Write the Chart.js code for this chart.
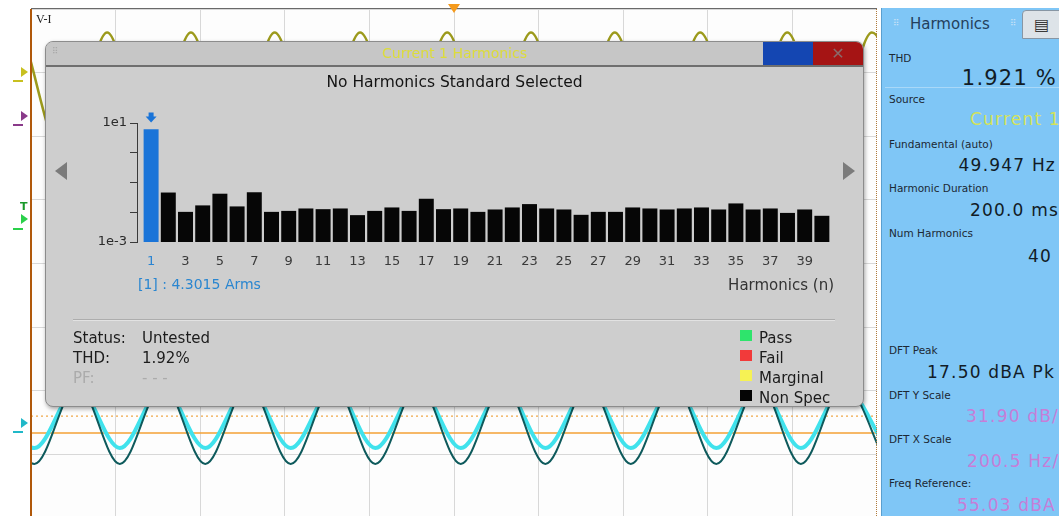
<!DOCTYPE html>
<html lang="en">
<head>
<meta charset="UTF-8">
<title>Current 1 Harmonics</title>
<script src="https://cdn.jsdelivr.net/npm/chart.js"></script>
<style>
  body {
    margin: 0;
    width: 1059px;
    height: 516px;
    overflow: hidden;
    position: relative;
    background: #ffffff;
    font-family: "DejaVu Sans", sans-serif;
  }
  .abs { position: absolute; white-space: nowrap; }
  #scope-chart { position: absolute; left: 31px; top: 9px; background: #fdfdfd; }
  #scope-left { left: 30px; top: 9px; width: 2px; height: 507px; background: #b0580a; }
  #scope-right { left: 876px; top: 9px; height: 507px; border-left: 1px dotted #b07a3a; }
  #scope-top { left: 31px; top: 8px; width: 846px; height: 1px; background: #6a6a6a; }
  #trig { left: 448px; top: 4px; width: 0; height: 0; border-left: 6px solid transparent; border-right: 6px solid transparent; border-top: 9px solid #f59a1c; }
  .chmark { width: 0; height: 0; border-top: 5px solid transparent; border-bottom: 5px solid transparent; border-left: 7px solid; }
  .chgnd { width: 10px; height: 2px; }

  #dialog {
    left: 45px; top: 41px; width: 817px; height: 364px;
    background: #cecece; border: 1px solid #8c8c8c; border-radius: 8px;
    box-shadow: 1px 2px 4px rgba(0,0,0,0.35);
  }
  #titlebar {
    left: 46px; top: 42px; width: 817px; height: 23px;
    background: #c6c6c6; border-bottom: 2px solid #6f6f6f; border-radius: 7px 7px 0 0;
  }
  #btn-blue { left: 763px; top: 42px; width: 50px; height: 23px; background: #1446b2; }
  #btn-red { left: 813px; top: 42px; width: 50px; height: 23px; background: #a51414; border-radius: 0 7px 0 0;
             color: #8a6a6a; font-size: 16px; text-align: center; line-height: 23px; }
  #title { left: 46px; top: 45px; width: 817px; text-align: center; font-size: 14px; color: #dcdc3a; }
  #subtitle { left: 46px; top: 73px; width: 817px; text-align: center; font-size: 15.5px; color: #141414; }
  .nav { width: 0; height: 0; border-top: 9px solid transparent; border-bottom: 9px solid transparent; }
  #harm-chart { position: absolute; left: 60px; top: 100px; }
  #sel-label { left: 138px; top: 276px; font-size: 14px; color: #2a86d0; }
  #axis-name { right: 225px; top: 276px; font-size: 15px; color: #333; }
  #sep { left: 73px; top: 319px; width: 762px; height: 1px; background: #adadad; border-bottom: 1px solid #e2e2e2; }
  .stat { font-size: 15px; color: #1c1c1c; }
  .stat.dim { color: #ababab; }
  .sw { width: 12px; height: 11px; }
  .leg { font-size: 15px; color: #1c1c1c; }

  #panel { left: 881px; top: 8px; width: 178px; height: 508px; background: #7fc6f6; border-left: 1px solid #5a9fcf; }
  #tab-icon { left: 1022px; top: 10px; width: 37px; height: 27px; background: #dde3e8; border: 1px solid #8796a4; border-radius: 4px 0 0 0;
              font-size: 16px; color: #3a3a3a; text-align: center; line-height: 27px; }
  #tab-name { left: 910px; top: 15px; font-size: 15px; color: #24405c; }
  .grip { font-size: 9px; color: #c8e2f6; }
  #thd-sep { left: 885px; top: 87px; width: 174px; height: 1px; background: #a9d8f8; }
  .plabel { font-size: 10.5px; color: #1c2834; }
  .pval { font-size: 17px; letter-spacing: 1.2px; color: #121c26; }
  .pval.pink { color: #c67ed8; }
</style>
</head>
<body>

<!-- oscilloscope background -->
<canvas id="scope-chart" width="846" height="509"></canvas>
<div class="abs" id="scope-left"></div>
<div class="abs" id="scope-right"></div>
<div class="abs" id="scope-top"></div>
<div class="abs" id="trig"></div>
<div class="abs" style="left:36px; top:12px; font-family:'Liberation Serif'; font-size:12px; color:#222;">V-I</div>

<div class="abs chmark" style="left:21px; top:67px; color:#c8c020;"></div>
<div class="abs chgnd" style="left:13px; top:80px; background:#c8c020;"></div>
<div class="abs chmark" style="left:21px; top:111px; color:#8a3a8a;"></div>
<div class="abs chgnd" style="left:13px; top:124px; background:#8a3a8a;"></div>
<div class="abs" style="left:20px; top:200px; font-size:11px; color:#1a9a2a; font-weight:bold;">T</div>
<div class="abs chmark" style="left:21px; top:214px; color:#2ad04a;"></div>
<div class="abs chgnd" style="left:13px; top:228px; background:#2ad04a;"></div>
<div class="abs chmark" style="left:21px; top:418px; color:#20b8c8;"></div>
<div class="abs chgnd" style="left:13px; top:431px; background:#20b8c8;"></div>

<!-- harmonics dialog -->
<div class="abs" id="dialog"></div>
<div class="abs" id="titlebar"></div>
<div class="abs" style="left:52px; top:46px; font-size:9px; color:#a8a8a8;">⠿</div>
<div class="abs" id="title">Current 1 Harmonics</div>
<div class="abs" id="btn-blue"></div>
<div class="abs" id="btn-red">✕</div>
<div class="abs" id="subtitle">No Harmonics Standard Selected</div>
<div class="abs nav" style="left:55px; top:162px; border-right:12px solid #7b7b7b;"></div>
<div class="abs nav" style="left:843px; top:162px; border-left:12px solid #7b7b7b;"></div>

<canvas id="harm-chart" width="790" height="200"></canvas>

<div class="abs" id="sel-label">[1] : 4.3015 Arms</div>
<div class="abs" id="axis-name">Harmonics (n)</div>
<div class="abs" id="sep"></div>

<div class="abs stat" style="left:73px; top:329px;">Status:</div>
<div class="abs stat" style="left:142px; top:329px;">Untested</div>
<div class="abs stat" style="left:73px; top:349px;">THD:</div>
<div class="abs stat" style="left:142px; top:349px;">1.92%</div>
<div class="abs stat dim" style="left:73px; top:369px;">PF:</div>
<div class="abs stat dim" style="left:142px; top:369px;">- - -</div>

<div class="abs sw" style="left:740px; top:330px; background:#2ee46c;"></div>
<div class="abs leg" style="left:759px; top:329px;">Pass</div>
<div class="abs sw" style="left:740px; top:350px; background:#f23a3a;"></div>
<div class="abs leg" style="left:759px; top:349px;">Fail</div>
<div class="abs sw" style="left:740px; top:370px; background:#f6f254;"></div>
<div class="abs leg" style="left:759px; top:369px;">Marginal</div>
<div class="abs sw" style="left:740px; top:390px; background:#050505;"></div>
<div class="abs leg" style="left:759px; top:389px;">Non Spec</div>

<!-- measurement side panel -->
<div class="abs" id="panel"></div>
<div class="abs grip" style="left:893px; top:18px;">⠿</div>
<div class="abs" id="tab-name">Harmonics</div>
<div class="abs grip" style="left:1010px; top:18px;">⠿</div>
<div class="abs" id="tab-icon">▤</div>
<div class="abs" id="thd-sep"></div>

<div class="abs plabel" style="left:889px; top:52px;">THD</div>
<div class="abs pval" style="right:2px; top:66px; font-size:21px;">1.921 %</div>
<div class="abs plabel" style="left:889px; top:93px;">Source</div>
<div class="abs pval" style="left:970px; top:109px; color:#d4e25a;">Current 1</div>
<div class="abs plabel" style="left:889px; top:138px;">Fundamental (auto)</div>
<div class="abs pval" style="right:3px; top:155px;">49.947 Hz</div>
<div class="abs plabel" style="left:889px; top:182px;">Harmonic Duration</div>
<div class="abs pval" style="right:0px; top:200px;">200.0 ms</div>
<div class="abs plabel" style="left:889px; top:227px;">Num Harmonics</div>
<div class="abs pval" style="right:7px; top:246px;">40</div>
<div class="abs plabel" style="left:889px; top:344px;">DFT Peak</div>
<div class="abs pval" style="left:927px; top:362px;">17.50 dBA Pk</div>
<div class="abs plabel" style="left:889px; top:389px;">DFT Y Scale</div>
<div class="abs pval pink" style="left:966px; top:406px;">31.90 dB/</div>
<div class="abs plabel" style="left:889px; top:433px;">DFT X Scale</div>
<div class="abs pval pink" style="left:967px; top:451px;">200.5 Hz/</div>
<div class="abs plabel" style="left:889px; top:477px;">Freq Reference:</div>
<div class="abs pval pink" style="left:957px; top:495px;">55.03 dBA</div>

<script>
    // Harmonic amplitudes (Arms)
    const harmonicOrder = [1, 2, 3, 4, 5, 6, 7, 8, 9, 10,
                           11, 12, 13, 14, 15, 16, 17, 18, 19, 20,
                           21, 22, 23, 24, 25, 26, 27, 28, 29, 30,
                           31, 32, 33, 34, 35, 36, 37, 38, 39, 40];
    const harmonicAmps = [6.2, 0.046, 0.0103, 0.017, 0.042, 0.0157, 0.047, 0.0103, 0.0111, 0.0134,
                          0.0127, 0.0134, 0.008, 0.0111, 0.0145, 0.0111, 0.0284, 0.0127, 0.0134, 0.0103,
                          0.0124, 0.0145, 0.0188, 0.0134, 0.0124, 0.0082, 0.0103, 0.0103, 0.0145, 0.0134,
                          0.0124, 0.0134, 0.0145, 0.0124, 0.0198, 0.0124, 0.0134, 0.0095, 0.0124, 0.0076];
    const oddTicks = [1, 3, 5, 7, 9, 11, 13, 15, 17, 19, 21, 23, 25, 27, 29, 31, 33, 35, 37, 39];
    const decadeTicks = [0.001, 0.01, 0.1, 1, 10];
    const decadeLabels = ['1e-3', '', '', '', '1e1'];
    const selectedHarmonic = 1;

    // Scope traces behind the dialog (time and level in divisions)
    const waveTime  = [-0.46, 0.04, 0.55, 1.05, 1.56, 2.06, 2.57, 3.07, 3.58, 4.07, 4.58,
                       5.08, 5.59, 6.08, 6.59, 7.09, 7.60, 8.10, 8.61, 9.10, 9.61, 10.11];
    const cyanLevel = [-1.95, -2.90, -1.95, -2.90, -1.95, -2.90, -1.95, -2.90, -1.95, -2.90, -1.95,
                       -2.90, -1.95, -2.90, -1.95, -2.90, -1.95, -2.90, -1.95, -2.90, -1.95, -2.90];
    const tealLevel = [-1.90, -3.15, -1.90, -3.15, -1.90, -3.15, -1.90, -3.15, -1.90, -3.15, -1.90,
                       -3.15, -1.90, -3.15, -1.90, -3.15, -1.90, -3.15, -1.90, -3.15, -1.90, -3.15];
    const yellowTime  = [-0.10, 0.40, 0.90, 1.40, 1.89, 2.39, 2.88, 3.39, 3.89, 4.41, 4.92,
                         5.42, 5.91, 6.41, 6.90, 7.41, 7.91, 8.43, 8.94, 9.44, 9.94, 10.44];
    const yellowLevel = [3.63, 1.63, 3.63, 1.63, 3.63, 1.63, 3.63, 1.63, 3.63, 1.63, 3.63,
                         1.63, 3.63, 1.63, 3.63, 1.63, 3.63, 1.63, 3.63, 1.63, 3.63, 1.63];
    const groundLevel = -2.665;
    const cursorLevel = -2.40;

    // Scope grid + traces
    new Chart(document.getElementById('scope-chart'), {
        type: 'line',
        data: {
            datasets: [
                {
                    data: waveTime.map((t, i) => ({ x: t, y: tealLevel[i] })),
                    borderColor: '#0e5a5c', borderWidth: 2,
                    cubicInterpolationMode: 'monotone', pointRadius: 0
                },
                {
                    data: waveTime.map((t, i) => ({ x: t, y: cyanLevel[i] })),
                    borderColor: '#40e2ec', borderWidth: 4,
                    cubicInterpolationMode: 'monotone', pointRadius: 0
                },
                {
                    data: yellowTime.map((t, i) => ({ x: t, y: yellowLevel[i] })),
                    borderColor: '#9c9a1c', borderWidth: 2.5,
                    cubicInterpolationMode: 'monotone', pointRadius: 0
                },
                {
                    data: [{ x: 0, y: groundLevel }, { x: 10, y: groundLevel }],
                    borderColor: '#f4a236', borderWidth: 1.5, pointRadius: 0
                },
                {
                    data: [{ x: 0, y: cursorLevel }, { x: 10, y: cursorLevel }],
                    borderColor: '#f0a848', borderWidth: 1.2, borderDash: [2, 3], pointRadius: 0
                }
            ]
        },
        options: {
            responsive: false,
            animation: false,
            devicePixelRatio: 1,
            layout: { padding: 0 },
            plugins: { legend: { display: false }, tooltip: { enabled: false } },
            scales: {
                x: {
                    type: 'linear', min: 0, max: 10,
                    ticks: { display: false, stepSize: 1 },
                    grid: { color: '#d8d8d8', drawTicks: false },
                    border: { display: false },
                    afterFit: s => { s.height = 0; }
                },
                y: {
                    type: 'linear', min: -4, max: 4,
                    ticks: { display: false, stepSize: 1 },
                    grid: { color: '#d8d8d8', drawTicks: false },
                    border: { display: false },
                    afterFit: s => { s.width = 0; }
                }
            }
        }
    });

    // Blue arrow above the selected harmonic
    const selectedMarker = {
        id: 'selectedMarker',
        afterDatasetsDraw(chart) {
            const ctx = chart.ctx;
            const x = chart.scales.x.getPixelForValue(selectedHarmonic);
            const top = chart.chartArea.top;
            ctx.save();
            ctx.fillStyle = '#1a74d8';
            ctx.fillRect(x - 2.5, top - 10.5, 5, 4.5);
            ctx.beginPath();
            ctx.moveTo(x - 5.5, top - 6.5);
            ctx.lineTo(x + 5.5, top - 6.5);
            ctx.lineTo(x, top - 0.5);
            ctx.closePath();
            ctx.fill();
            ctx.restore();
        }
    };

    new Chart(document.getElementById('harm-chart'), {
        type: 'bar',
        data: {
            datasets: [{
                data: harmonicOrder.map((n, i) => ({ x: n, y: harmonicAmps[i] })),
                backgroundColor: ctx => (ctx.raw && ctx.raw.x === selectedHarmonic) ? '#1a74d8' : '#060606',
                barPercentage: 0.87,
                categoryPercentage: 1.0
            }]
        },
        options: {
            responsive: false,
            animation: false,
            devicePixelRatio: 1,
            layout: { padding: { top: 23, right: 19, left: 0, bottom: 0 } },
            plugins: { legend: { display: false }, tooltip: { enabled: false } },
            scales: {
                x: {
                    type: 'linear', min: 0.18, max: 40.53, offset: false,
                    grid: { display: false, drawTicks: false },
                    border: { display: false },
                    afterBuildTicks: s => { s.ticks = oddTicks.map(v => ({ value: v })); },
                    afterFit: s => { s.height = 58; },
                    ticks: {
                        padding: 12, autoSkip: false, maxRotation: 0,
                        font: { family: 'DejaVu Sans', size: 13 },
                        color: c => c.tick && c.tick.value === selectedHarmonic ? '#2a84d2' : '#3a3a3a',
                        callback: v => String(v)
                    }
                },
                y: {
                    type: 'logarithmic', min: 0.001, max: 10,
                    afterBuildTicks: s => { s.ticks = decadeTicks.map(v => ({ value: v })); },
                    afterFit: s => { s.width = 77; },
                    grid: { display: true, drawOnChartArea: false, drawTicks: true, tickLength: 7, color: '#3a3a3a' },
                    border: { display: true, color: '#3a3a3a' },
                    ticks: {
                        padding: 3, autoSkip: false,
                        font: { family: 'DejaVu Sans', size: 13 },
                        color: '#2a2a2a',
                        callback: (v, i) => decadeLabels[i]
                    }
                }
            }
        },
        plugins: [selectedMarker]
    });
</script>
</body>
</html>
